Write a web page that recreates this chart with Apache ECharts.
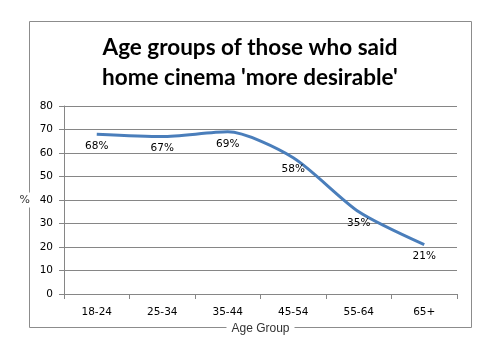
<!DOCTYPE html>
<html><head><meta charset="utf-8">
<script src="https://cdn.jsdelivr.net/npm/echarts@6/dist/echarts.min.js"></script>
<style>html,body{margin:0;padding:0;background:#fff}#c{width:500px;height:350px}</style>
</head><body><div id="c"></div>
<script>
const titleLines = ["Age groups of those who said", "home cinema 'more desirable'"];
const categories = ["18-24", "25-34", "35-44", "45-54", "55-64", "65+"];
const values = [68, 67, 69, 58, 35, 21];
const yTicks = {min: 0, max: 80, interval: 10};

const chart = echarts.init(document.getElementById('c'), null, {renderer: 'canvas'});
chart.setOption({
  animation: false,
  backgroundColor: '#fff',
  graphic: [{
    type: 'rect', z: -10, silent: true,
    shape: {x: 29.5, y: 21.5, width: 442, height: 306},
    style: {fill: 'none', stroke: '#8c8c8c', lineWidth: 1}
  }],
  title: {
    text: titleLines.join('\n'),
    left: 'center', top: 28,
    textStyle: {fontFamily: 'Lato', fontWeight: 'bold', fontSize: 22.5, lineHeight: 30, color: '#000'}
  },
  grid: {left: 64, right: 43, top: 106, bottom: 56, containLabel: false},
  xAxis: {
    type: 'category', data: categories, boundaryGap: true,
    name: 'Age Group', nameLocation: 'middle', nameGap: 28,
    nameTextStyle: {fontFamily: 'Liberation Sans', fontSize: 12, color: '#333', backgroundColor: '#fff', padding: [0, 5]},
    axisLine: {lineStyle: {color: '#868686'}},
    axisTick: {show: true, alignWithLabel: false, length: 5, lineStyle: {color: '#868686'}},
    axisLabel: {fontFamily: 'DejaVu Sans', fontSize: 10.5, color: '#000', margin: 13}
  },
  yAxis: {
    type: 'value', min: yTicks.min, max: yTicks.max, interval: yTicks.interval,
    name: '%', nameLocation: 'middle', nameRotate: 0, nameGap: 33,
    nameTextStyle: {fontFamily: 'DejaVu Sans', fontSize: 11, color: '#333', backgroundColor: '#fff', padding: [2, 1]},
    axisLine: {show: true, lineStyle: {color: '#868686'}},
    axisTick: {show: true, length: 5, lineStyle: {color: '#868686'}},
    axisLabel: {fontFamily: 'DejaVu Sans', fontSize: 10.5, color: '#000', margin: 11},
    splitLine: {lineStyle: {color: '#868686'}}
  },
  series: [{
    type: 'line', data: values, smooth: 0.25,
    symbol: 'circle', symbolSize: 1, showSymbol: true,
    itemStyle: {color: 'rgba(0,0,0,0)'},
    lineStyle: {color: '#4a7ebb', width: 3},
    label: {show: true, position: 'bottom', distance: 6, formatter: '{c}%',
      fontFamily: 'DejaVu Sans', fontSize: 10.5, color: '#000'}
  }]
});
</script></body></html>
